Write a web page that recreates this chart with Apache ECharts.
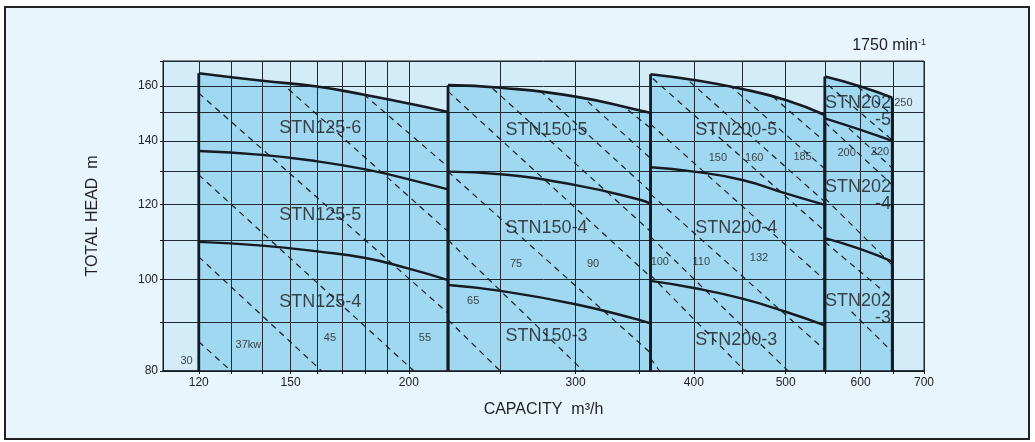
<!DOCTYPE html>
<html>
<head>
<meta charset="utf-8">
<script src="https://cdn.jsdelivr.net/npm/echarts@6/dist/echarts.min.js"></script>
<style>
html,body{margin:0;padding:0;background:#ffffff;}
#c{width:1035px;height:442px;}
</style>
</head>
<body>
<div id="c"></div>
<script>
// ---------- axes ----------
const xGridValues = [120,130,140,150,160,170,180,190,200,250,300,350,400,450,500,550,600,650,700];
const xLabelValues = [120,150,200,300,400,500,600,700];
const yGridValues = [80,90,100,110,120,130,140,150,160,170];
const yLabelValues = [80,100,120,140,160];

// ---------- pump curves [capacity m3/h, head m] ----------
const stn125Top = [[120,165.0],[140,162.0],[160,159.8],[180,156.5],[200,153.3],[220,150.2]];
const stn125Mid = [[120,136.6],[140,135.3],[160,133.2],[180,130.6],[200,127.5],[220,124.4]];
const stn125Low = [[120,109.5],[140,108.5],[160,107.0],[180,105.3],[200,102.6],[220,99.8]];

const stn150Top = [[220,160.3],[250,159.3],[300,155.9],[350,150.8],[360,149.8]];
const stn150Mid = [[220,129.9],[250,129.1],[300,125.7],[350,121.4],[360,120.2]];
const stn150Low = [[220,98.6],[250,97.2],[300,94.1],[350,90.6],[360,89.8]];

const stn200Top = [[360,164.6],[400,162.3],[450,158.8],[500,154.6],[550,149.1]];
const stn200Mid = [[360,131.3],[400,129.9],[450,127.3],[500,123.2],[550,119.8]];
const stn200Low = [[360,99.6],[400,97.9],[450,95.4],[500,92.4],[550,89.4]];

const stn202Top = [[550,163.7],[600,159.8],[648,155.5]];
const stn202Mid = [[550,147.9],[600,143.8],[648,140.0]];
const stn202Low = [[550,110.5],[600,107.6],[648,104.4]];

// ---------- motor power lines (start, end) ----------
const stn125Power = [
  [[120,85.9],[129.8,80]],
  [[120,105.6],[161.8,80]],
  [[120,128.9],[202.5,80]],
  [[120,157.2],[220,92.1]],
  [[149.2,158.8],[220,112.3]],
  [[179.3,156.7],[220,131.4]]
];
const stn150Power = [
  [[220,157.9],[360,100.6]],
  [[245.2,159.0],[360,112.3]],
  [[275.2,158.1],[360,123.7]],
  [[309,154.0],[360,134.2]],
  [[340.8,150.9],[360,144.4]],
  [[220,129.9],[360,83.6]],
  [[220,110.0],[305.8,80]],
  [[220,90.6],[249.8,80]]
];
const stn200Power = [
  [[362,162.9],[550,112.4]],
  [[396,161.7],[550,120.7]],
  [[436,160.3],[550,130.8]],
  [[484.6,155.9],[550,139.7]],
  [[360,145.8],[550,99.8]],
  [[360,123.0],[550,84.2]],
  [[360,110.9],[503,80]],
  [[360,101.0],[453,80]],
  [[360,82.5],[368,80]]
];
const stn202Power = [
  [[554.6,160.3],[648,140.3]],
  [[596,159.7],[648,149.1]],
  [[550,146.5],[648,125.8]],
  [[583,144.4],[648,131.0]],
  [[550,121.8],[648,103.5]],
  [[550,109.5],[648,95.4]],
  [[587,92.4],[648,83.8]]
];

// ---------- texts ----------
const powerLabels = [
  ['30',116.5,82.0],['37kw',135.4,85.3],['45',165.1,86.7],['55',208,86.7],
  ['65',233.9,94.9],['75',259.6,103.7],['90',313,103.7],
  ['100',368.2,104.4],['110',407.3,104.4],['132',468.6,105.2],
  ['150',424,134.2],['160',463.2,134.2],['185',521,134.7],
  ['200',580,135.9],['220',629,136.2],['250',665.7,153.4]
];
const modelLabels = [
  ['STN125-6',161.2,144.4],['STN125-5',161.2,117.0],['STN125-4',161.2,94.7],
  ['STN150-5',279.6,143.7],['STN150-4',279.6,113.2],['STN150-3',279.6,87.0],
  ['STN200-5',443.4,143.7],['STN200-4',443.4,113.2],['STN200-3',443.4,86.2]
];
const model202Labels = [
  ['STN202\n-5',646,150.2],['STN202\n-4',646,122.5],['STN202\n-3',646,92.8]
];

// ---------- build ----------
const INK = '#151b22';
const GRID = '#1f2a33';
const FILL = '#a0d8f2';
const PLOT_BG = '#d4ebf8';
const PAGE_BG = '#e8f5fd';
const FONT = '"Liberation Sans", Arial, sans-serif';

function lineS(data, extra) {
  return Object.assign({
    type: 'line', data: data, symbol: 'none', silent: true, animation: false,
    lineStyle: { color: INK, width: 2.4 }, z: 5
  }, extra || {});
}
function edge(p) { return [[p[0], 80], [p[0], p[1]]]; }

const tops = [stn125Top, stn150Top, stn200Top, stn202Top];
const series = [];
tops.forEach(function (top) {
  series.push(lineS(top, {
    smooth: 0.5,
    lineStyle: { width: 0, color: FILL },
    areaStyle: { color: FILL, opacity: 1, origin: 'start' }, z: 1
  }));
  series.push(lineS(top, { smooth: 0.5, lineStyle: { color: INK, width: 2.6 } }));
  series.push(lineS(edge(top[0]), { lineStyle: { color: INK, width: 2.8 } }));
  series.push(lineS(edge(top[top.length - 1]), { lineStyle: { color: INK, width: 2.8 } }));
});
[stn125Mid, stn125Low, stn150Mid, stn150Low, stn200Mid, stn200Low, stn202Mid, stn202Low].forEach(function (c) {
  series.push(lineS(c, { smooth: 0.5 }));
});
[].concat(stn125Power, stn150Power, stn200Power, stn202Power).forEach(function (seg) {
  series.push(lineS(seg, { lineStyle: { color: INK, width: 1.2, type: [6, 5] }, z: 4 }));
});

function labelScatter(list, label) {
  return {
    type: 'scatter', silent: true, animation: false, symbolSize: 1,
    itemStyle: { color: 'transparent' }, z: 6,
    data: list.map(function (d) { return { name: d[0], value: [d[1], d[2]] }; }),
    label: Object.assign({ show: true, position: 'inside', formatter: function (p) { return p.name; },
      color: '#1a1a1a', fontFamily: FONT }, label)
  };
}
series.push(labelScatter(powerLabels, { fontSize: 11, fontFamily: '"Liberation Sans Narrow", ' + FONT }));
series.push(labelScatter(modelLabels, { fontSize: 18 }));
series.push(labelScatter(model202Labels, { fontSize: 18, align: 'right', lineHeight: 17 }));

const chart = echarts.init(document.getElementById('c'), null, { renderer: 'canvas' });
chart.setOption({
  animation: false,
  backgroundColor: 'transparent',
  textStyle: { fontFamily: FONT },
  grid: { left: 163, right: 111, top: 61, bottom: 71, show: true, backgroundColor: PLOT_BG,
          borderColor: INK, borderWidth: 1, containLabel: false },
  xAxis: {
    type: 'log', logBase: 10, min: 110, max: 700, z: 3,
    axisLine: { show: true, lineStyle: { color: INK, width: 1.6 } },
    axisTick: { show: true, customValues: xGridValues, length: 3, lineStyle: { color: INK } },
    axisLabel: { customValues: xLabelValues, margin: 6, fontSize: 12, color: '#222',
                 formatter: function (v) { return String(Math.round(v)); } },
    splitLine: { show: true, lineStyle: { color: GRID, width: 1 } },
    minorTick: { show: false }, minorSplitLine: { show: false },
    name: 'CAPACITY  m³/h', nameLocation: 'middle', nameGap: 31,
    nameTextStyle: { fontSize: 16, color: '#222' }
  },
  yAxis: {
    type: 'log', logBase: 10, min: 80, max: 170, z: 3,
    axisLine: { show: true, lineStyle: { color: INK, width: 1 } },
    axisTick: { show: true, customValues: yGridValues, length: 3, lineStyle: { color: INK } },
    axisLabel: { customValues: yLabelValues, margin: 5, fontSize: 12, color: '#222',
                 formatter: function (v) { return String(Math.round(v)); } },
    splitLine: { show: true, lineStyle: { color: GRID, width: 1 } },
    minorTick: { show: false }, minorSplitLine: { show: false },
    name: 'TOTAL HEAD  m', nameLocation: 'middle', nameGap: 62, nameRotate: 90,
    nameTextStyle: { fontSize: 16, color: '#222' }
  },
  graphic: [
    { type: 'rect', z: -100, silent: true, shape: { x: 5, y: 7, width: 1024, height: 432 },
      style: { fill: PAGE_BG, stroke: '#222', lineWidth: 2 } },
    { type: 'text', z: 10, silent: true, right: 117, top: 38,
      style: { text: '1750 min', font: '16px "Liberation Sans", Arial', fill: '#222' } },
    { type: 'text', z: 10, silent: true, left: 918, top: 38,
      style: { text: '-1', font: '9px "Liberation Sans", Arial', fill: '#222' } }
  ],
  series: series
});
</script>
</body>
</html>
